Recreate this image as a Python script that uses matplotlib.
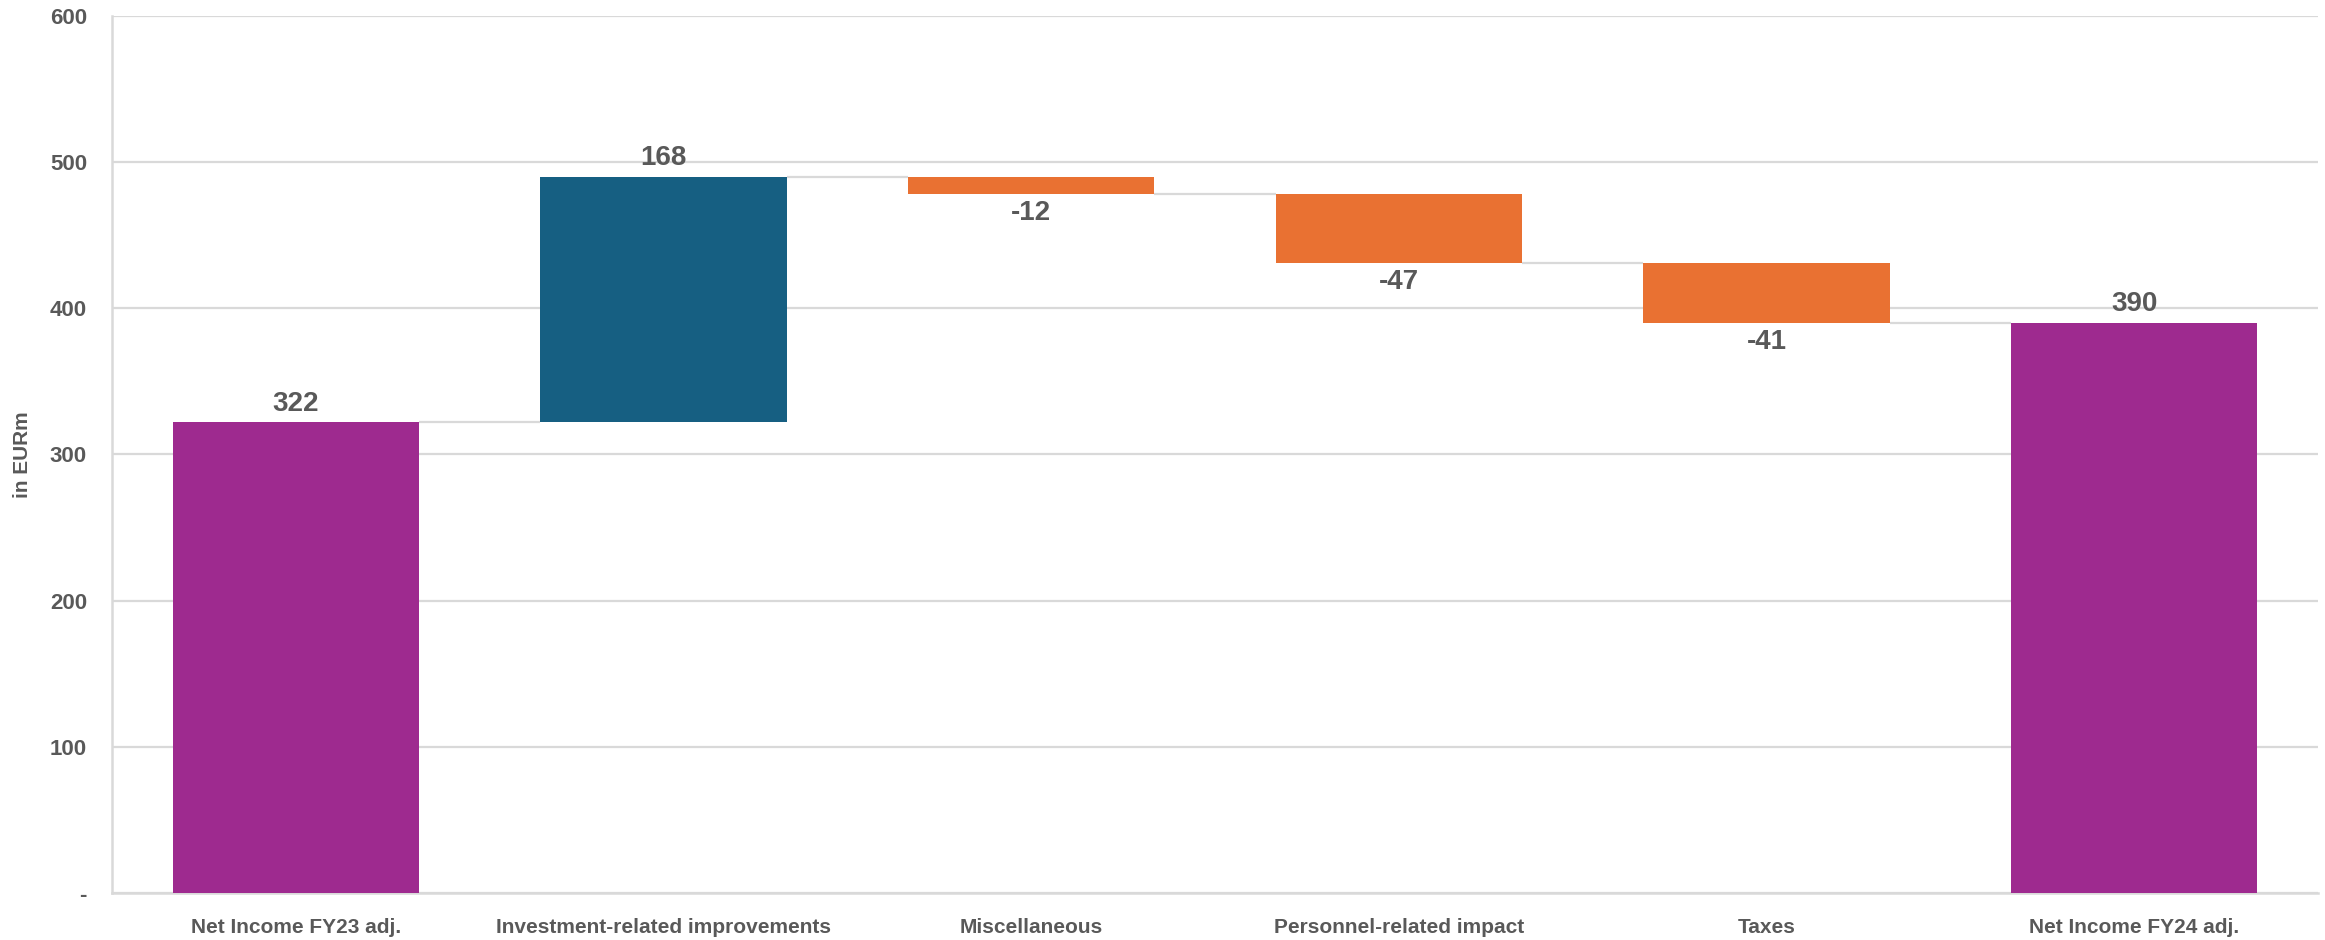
import matplotlib
matplotlib.use("Agg")
import matplotlib.pyplot as plt
from matplotlib import font_manager

categories = ["Net Income FY23 adj.", "Investment-related improvements", "Miscellaneous",
              "Personnel-related impact", "Taxes", "Net Income FY24 adj."]
values = [322, 168, -12, -47, -41, 390]
is_total = [True, False, False, False, False, True]
ytick_vals = [0, 100, 200, 300, 400, 500, 600]
ytick_labels = ["-", "100", "200", "300", "400", "500", "600"]

C_TOTAL = "#9e2a8f"
C_UP = "#165f82"
C_DOWN = "#e97132"
C_TEXT = "#595959"
C_GRID = "#d9d9d9"

names = {f.name for f in font_manager.fontManager.ttflist}
narrow = "Liberation Sans Narrow" if "Liberation Sans Narrow" in names else "Liberation Sans"

fig = plt.figure(figsize=(23.25, 9.4), dpi=100)
ax = fig.add_axes([112/2325, 1-893/940, (2318-112)/2325, (893-16)/940])

width = 0.67
bottoms, heights, colors, ends = [], [], [], []
running = 0
for v, t in zip(values, is_total):
    if t:
        b, h = 0, v
        running = v
        colors.append(C_TOTAL)
    else:
        b, h = running, v
        running += v
        colors.append(C_UP if v >= 0 else C_DOWN)
    bottoms.append(b); heights.append(h); ends.append(running)

x = list(range(len(categories)))
ax.bar(x, heights, bottom=bottoms, width=width, color=colors, zorder=3)

# connectors
for i in range(len(x) - 1):
    ax.plot([x[i] + width/2, x[i+1] - width/2], [ends[i], ends[i]],
            color=C_GRID, lw=1.6, zorder=2, solid_capstyle="butt")

# value labels
for i, (v, b, h) in enumerate(zip(values, bottoms, heights)):
    if v >= 0:
        ax.annotate(f"{v}", (x[i], b + h), xytext=(0, 4), textcoords="offset points",
                    ha="center", va="bottom", fontsize=20, fontweight="bold",
                    color=C_TEXT, family="Liberation Sans", zorder=4)
    else:
        ax.annotate(f"{v}", (x[i], b + h), xytext=(0, -4), textcoords="offset points",
                    ha="center", va="top", fontsize=20, fontweight="bold",
                    color=C_TEXT, family="Liberation Sans", zorder=4)

ax.set_xlim(-0.5, len(x) - 0.5)
ax.set_ylim(0, 600)
ax.set_yticks(ytick_vals)
ax.set_yticklabels(ytick_labels)
ax.set_xticks(x)
ax.set_xticklabels(categories)
ax.yaxis.grid(True, color=C_GRID, lw=1.6, zorder=0)
ax.set_axisbelow(True)
ax.tick_params(axis="both", length=0)
ax.tick_params(axis="y", pad=18, labelsize=16, labelcolor=C_TEXT)
ax.tick_params(axis="x", pad=18, labelsize=15, labelcolor=C_TEXT)
for lab in ax.get_yticklabels():
    lab.set_fontweight("bold"); lab.set_family("Liberation Sans")
for lab in ax.get_xticklabels():
    lab.set_fontweight("bold"); lab.set_family(narrow)
for s in ["top", "right"]:
    ax.spines[s].set_visible(False)
for s in ["left", "bottom"]:
    ax.spines[s].set_color(C_GRID)
    ax.spines[s].set_linewidth(1.8)

fig.text(22/2325, 1 - 455/940, "in EURm", rotation=90, ha="center", va="center",
         fontsize=15, fontweight="bold", color=C_TEXT, family=narrow)

fig.savefig("out.png", dpi=100, facecolor="white")
